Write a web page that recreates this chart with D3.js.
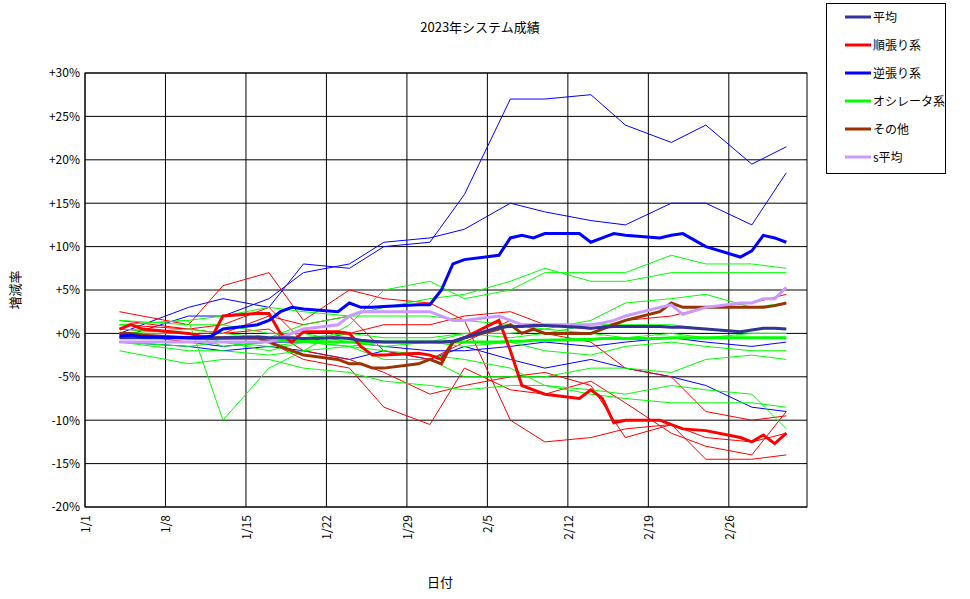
<!DOCTYPE html>
<html><head><meta charset="utf-8">
<script src="https://cdn.jsdelivr.net/npm/d3@7"></script>
<style>body{margin:0;background:#fff}svg{font-family:"Noto Sans CJK JP","DejaVu Sans",sans-serif}</style>
</head><body><svg id="c" width="970" height="599"></svg>
<script>
// Day offsets from 1/1
const xTickDays=[0,7,14,21,28,35,42,49,56];
const xTickLabels=["1/1","1/8","1/15","1/22","1/29","2/5","2/12","2/19","2/26"];
const yTicks=[30,25,20,15,10,5,0,-5,-10,-15,-20];
// trading days (thick lines)
const tradeDays=[3,4,5,9,10,11,12,15,16,17,18,19,22,23,24,25,26,29,30,31,32,33,36,37,38,39,40,43,44,45,46,47,50,51,52,54,57,58,59,60,61];
const avg     =[-0.5,-0.5,-0.5,-0.5,-0.5,-0.6,-0.5,-0.4,-0.5,-0.5,-0.5,-0.6,-0.5,-0.6,-0.8,-0.9,-1,-1,-1,-1,-0.9,-0.5,0.7,0.8,0.8,0.9,0.9,0.7,0.6,0.7,0.8,0.8,0.8,0.7,0.7,0.5,0.2,0.4,0.6,0.6,0.5];
const trend   =[0.5,1,0.5,0,-0.3,-0.5,2,2.3,2.3,0,-1,0.2,0.2,0,-1.5,-2.5,-2.5,-2.3,-2.5,-3,-1,-0.5,1.5,-2,-6,-6.5,-7,-7.5,-6.5,-7.5,-10.3,-10,-10,-10.5,-11,-11.2,-12,-12.5,-11.7,-12.7,-11.5];
const contra  =[-0.3,-0.2,-0.4,-0.5,-0.5,-0.3,0.5,1,1.5,2.5,3,2.8,2.5,3.5,3,3,3.1,3.3,3.3,5,8,8.5,9,11,11.3,11,11.5,11.5,10.5,11,11.5,11.3,11,11.3,11.5,10,8.8,9.5,11.3,11,10.5];
const osc     =[-0.4,-0.4,-0.5,-0.5,-0.6,-0.5,-0.6,-0.6,-0.7,-0.8,-0.8,-0.9,-1,-1,-1,-1,-1,-1,-1,-1,-1,-1,-1,-0.9,-0.9,-0.8,-0.8,-0.7,-0.7,-0.6,-0.6,-0.6,-0.6,-0.5,-0.5,-0.5,-0.5,-0.5,-0.5,-0.5,-0.5];
const other   =[0,0,-0.2,-0.5,-0.5,-0.5,-0.5,-0.5,-1,-1.5,-2,-2.5,-3,-3.5,-3.5,-4,-4,-3.5,-3,-3.5,-1,-0.5,0.5,1,0,0.5,0,0,0,0.5,1,1.5,2.5,3.5,3,3,3,3,3,3.2,3.5];
const sAvg    =[-1,-1,-1,-1,-1,-1,-1,-1,-1,-0.5,0,0.5,1,2,2.5,2.5,2.5,2.5,2.5,2,1.5,1.5,2,1.5,1,1,1,1,1,1.2,1.5,2,3,3.3,2.2,3,3.5,3.5,4,4,5.3];
// sparse days for individual systems
const sysDays=[3,9,12,16,19,23,26,30,33,37,40,44,47,51,54,58,61];
const blue1=[0,3,4,3,8,7.5,10,10.5,16,27,27,27.5,24,22,24,19.5,21.5];
const blue2=[-0.5,2,2,4,7,8,10.5,11,12,15,14,13,12.5,15,15,12.5,18.5];
const blue3=[-1,-1.5,-2,-1.5,-2,-3,-2,-3,-1.5,-3,-4,-3,-4,-5,-6,-8.5,-9];
const blue4=[-1,-1,-1.5,-1,-1,-1,-1.5,-2,-2,-1.5,-1,-1.5,-1,-0.5,-1,-1.5,-1];
const red1=[2.5,1,5.5,7,1.5,5,4,3.5,1.5,-10,-12.5,-12,-11,-10.5,-14.5,-14.5,-14];
const red2=[1,0.5,0,2,1,2,-2,-3,-1,1.5,0,-1,-4,-5,-9,-10,-9.5];
const red3=[0,-1,-1,-1,-3,-4,-8.5,-10.5,-4,-6.5,-7,-5.5,-8,-11.5,-13,-14,-9];
const red4=[0.5,0,0,0.5,-2,-3,-4.5,-7,-6,-5,-4.5,-6,-12,-10.5,-12,-12.5,-11.5];
const red5=[1.5,0.5,1,3,-1,0,1,1,2,2.5,1,0.5,1.5,2,3,3.5,4.5];
const green1=[1,1.5,-10,-4,-2,1,5,6,4,5,7,7,7,9,8,8,7.5];
const green2=[1,1.5,2,3,2.5,2,3,4,4.5,6,7.5,6,6,7,7,7,7];
const green3=[0,0.5,0,-0.5,1,2,2,2,1.5,1,0.5,1.5,3.5,4,4.5,3,3.5];
const green4=[-1,-1.5,-1,-2,-1,-1.5,-1,-1,0,-0.5,0,1,1,1,0.5,0,0];
const green5=[-1,-2,-2,-2.5,-2,-1.5,-3,-3,-5,-5,-5,-4,-4,-4.5,-3,-2.5,-3];
const green6=[-2,-3.5,-3,-3,-4,-4.5,-5.5,-6,-6.5,-6,-6,-7,-7.5,-8,-8,-8,-8.5];
const green7=[0.5,0,-1,-1.5,-1,-1.5,-2,-2.5,-3,-4,-6,-6.5,-7,-6,-6.5,-7,-11];
const green8=[1.5,1,1,0,0,-1,-1.5,-1,-1.5,-1,-2,-2.5,-1.5,-1,-1.5,-2,-2];
const green9=[0,0,-1.5,-1,-0.5,0,-0.5,-0.5,0,0,0.5,0,-0.5,0,-0.5,0,0];
const legendNames=["平均","順張り系","逆張り系","オシレータ系","その他","s平均"];

const svg=d3.select("#c");
const L=85,R=807,T=73,B=507;
const x=d3.scaleLinear().domain([0,62.8]).range([L,R]);
const y=d3.scaleLinear().domain([-20,30]).range([B,T]);
svg.append("rect").attr("x",L).attr("y",T).attr("width",R-L).attr("height",B-T).attr("fill","#fff").attr("stroke","#000");
const g=svg.append("g");
yTicks.forEach(v=>g.append("line").attr("x1",L).attr("x2",R).attr("y1",y(v)).attr("y2",y(v)).attr("stroke","#000"));
xTickDays.forEach(v=>g.append("line").attr("x1",x(v)).attr("x2",x(v)).attr("y1",T).attr("y2",B).attr("stroke","#000"));
const ya=svg.append("g").attr("transform",`translate(${L},0)`).call(d3.axisLeft(y).tickValues(yTicks).tickSize(0).tickPadding(5).tickFormat(v=>(v>=0?"+":"")+v+"%"));
ya.select(".domain").remove(); ya.selectAll("text").attr("font-size",12).attr("font-family","'Noto Sans CJK JP'");
const xa=svg.append("g").attr("transform",`translate(0,${B})`).call(d3.axisBottom(x).tickValues(xTickDays).tickSize(0).tickFormat((d,i)=>xTickLabels[i]));
xa.select(".domain").remove();
xa.selectAll("text").attr("font-size",12).attr("font-family","'Noto Sans CJK JP'").attr("transform","rotate(-90)").attr("text-anchor","end").attr("dx","-8").attr("dy","0.35em").attr("x",0).attr("y",0);

const line=(days)=>d3.line().x((d,i)=>x(days[i])).y(d=>y(d));
const thin=[[blue1,"#0000ff"],[blue2,"#0000ff"],[blue3,"#0000ff"],[blue4,"#0000ff"],
 [red1,"#ff0000"],[red2,"#ff0000"],[red3,"#ff0000"],[red4,"#ff0000"],[red5,"#ff0000"],
 [green1,"#00ff00"],[green2,"#00ff00"],[green3,"#00ff00"],[green4,"#00ff00"],[green5,"#00ff00"],[green6,"#00ff00"],[green7,"#00ff00"],[green8,"#00ff00"],[green9,"#00ff00"]];
thin.forEach(([d,c])=>svg.append("path").attr("d",line(sysDays)(d)).attr("fill","none").attr("stroke",c).attr("stroke-width",1));
const colors=["#333399","#ff0000","#0000ff","#00ff00","#993300","#cc99ff"];
const thick=[osc,trend,other,sAvg,avg,contra];
const thickC=[colors[3],colors[1],colors[4],colors[5],colors[0],colors[2]];
thick.forEach((d,i)=>svg.append("path").attr("d",line(tradeDays)(d)).attr("fill","none").attr("stroke",thickC[i]).attr("stroke-width",3));

svg.append("text").attr("x",480).attr("y",32).attr("text-anchor","middle").attr("font-size",13).text("2023年システム成績");
svg.append("text").attr("x",440).attr("y",587).attr("text-anchor","middle").attr("font-size",13).text("日付");
svg.append("text").attr("transform","translate(20,290) rotate(-90)").attr("text-anchor","middle").attr("font-size",13).text("増減率");
const lg=svg.append("g");
lg.append("rect").attr("x",826.5).attr("y",3.5).attr("width",119).attr("height",170).attr("fill","#fff").attr("stroke","#000");
legendNames.forEach((n,i)=>{const yy=17+i*28;
 lg.append("line").attr("x1",845).attr("x2",871).attr("y1",yy).attr("y2",yy).attr("stroke",colors[i]).attr("stroke-width",3);
 lg.append("text").attr("x",873).attr("y",yy+4.5).attr("font-size",12).text(n);});
</script></body></html>
